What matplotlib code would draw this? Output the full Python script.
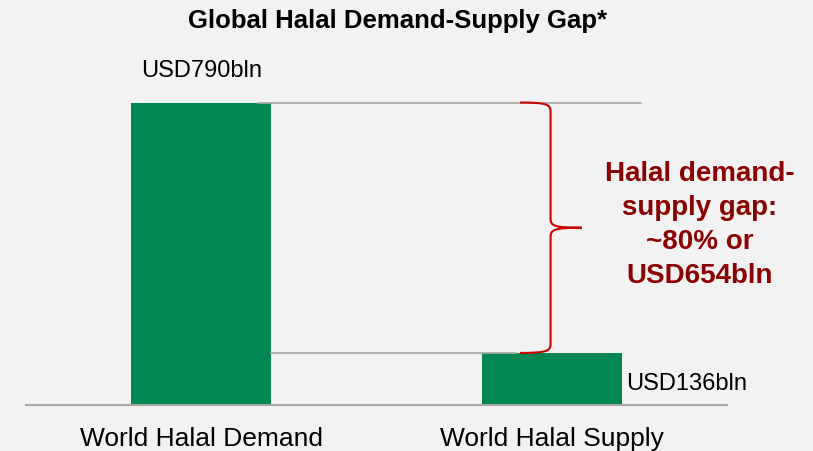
import matplotlib.pyplot as plt
from matplotlib.path import Path
from matplotlib.patches import PathPatch

plt.rcParams['font.family'] = ['Liberation Sans', 'DejaVu Sans']

categories = ['World Halal Demand', 'World Halal Supply']
values = [790, 136]
value_labels = ['USD790bln', 'USD136bln']
gap_text = 'Halal demand-\nsupply gap:\n~80% or\nUSD654bln'

bg = '#f2f2f2'
green = '#008752'

fig = plt.figure(figsize=(8.13, 4.51), dpi=100, facecolor=bg)
ax = fig.add_axes([0.032, 0.102, 0.862, 0.798], facecolor=bg)

x = [0, 1]
ax.bar(x, values, width=0.4, color=green, zorder=2)
ax.set_xlim(-0.5, 1.5)
ax.set_ylim(0, 940)

# reference lines at the top of each bar
ax.plot([0.162, 1.256], [values[0], values[0]], color='#a6a6a6', lw=1.2, zorder=3)
ax.plot([0.2, 0.897], [values[1], values[1]], color='#a6a6a6', lw=1.2, zorder=3)

# curly brace spanning the gap
top, bot = values[0], values[1]
mid = (top + bot) / 2
x0, xv, xt = 0.91, 0.997, 1.086
d = 24
verts = [
    (x0, top), (xv - 0.01, top), (xv, top - 5), (xv, top - d),
    (xv, mid + d),
    (xv, mid + 5), (xv + 0.01, mid), (xt, mid),
    (xv + 0.01, mid), (xv, mid - 5), (xv, mid - d),
    (xv, bot + d),
    (xv, bot + 5), (xv - 0.01, bot), (x0, bot),
]
codes = [Path.MOVETO, Path.CURVE4, Path.CURVE4, Path.CURVE4,
         Path.LINETO,
         Path.CURVE4, Path.CURVE4, Path.CURVE4,
         Path.CURVE4, Path.CURVE4, Path.CURVE4,
         Path.LINETO,
         Path.CURVE4, Path.CURVE4, Path.CURVE4]
ax.add_patch(PathPatch(Path(verts, codes), facecolor='none', edgecolor='#cc0000',
                       lw=1.5, zorder=4, clip_on=False))

ax.text(1.422, 470, gap_text, ha='center', va='center', fontsize=20,
        fontweight='bold', color='#8b0000', linespacing=1.4, clip_on=False)

ax.text(0, values[0] + 83, value_labels[0], ha='center', va='center', fontsize=17)
ax.text(1.212, values[1] - 80, value_labels[1], ha='left', va='center', fontsize=17)

ax.set_xticks(x, categories, fontsize=19)
ax.tick_params(axis='x', length=0, pad=16)
ax.set_yticks([])
for s in ['top', 'right', 'left']:
    ax.spines[s].set_visible(False)
ax.spines['bottom'].set_color('#a6a6a6')
ax.spines['bottom'].set_linewidth(1.5)

fig.text(398 / 813, 1 - 21 / 451, 'Global Halal Demand-Supply Gap*', ha='center',
         va='center', fontsize=18.5, fontweight='bold')

fig.savefig('out.png', dpi=100, facecolor=bg)
